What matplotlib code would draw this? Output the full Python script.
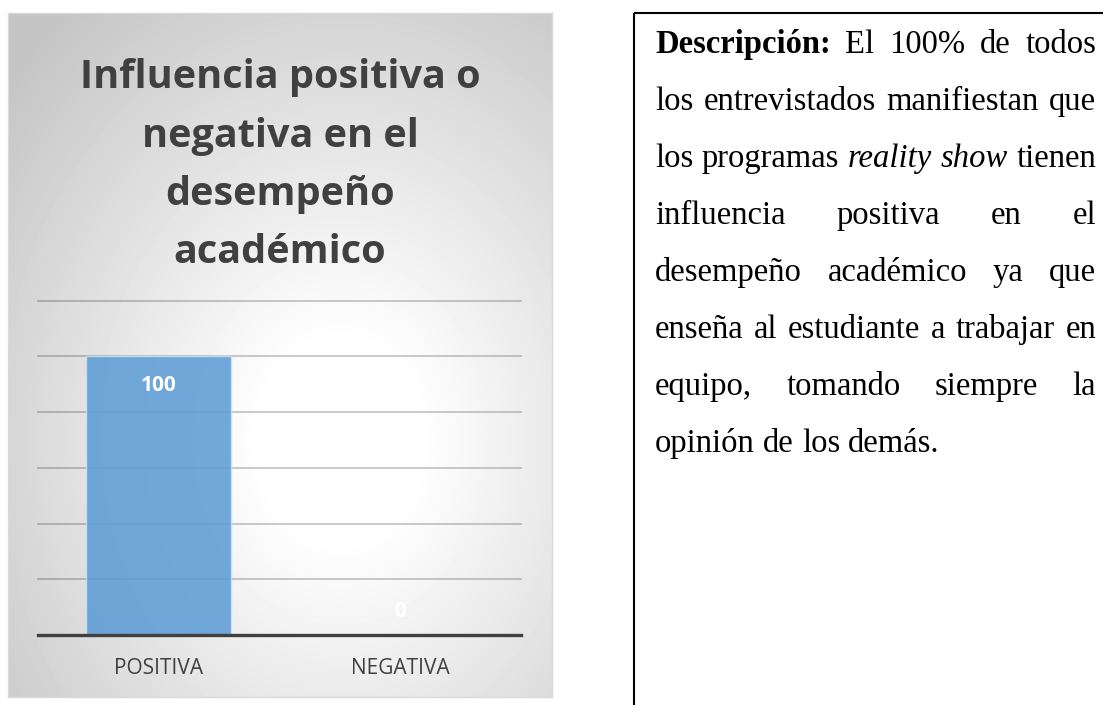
import numpy as np
import matplotlib
matplotlib.use("Agg")
import matplotlib.pyplot as plt
from matplotlib.patches import Rectangle

# chart data
categories = ["POSITIVA", "NEGATIVA"]
values = [100, 0]
title_lines = ["Influencia positiva o", "negativa en el", "desempeño", "académico"]

# description text, one entry per printed line: (word, style)
desc_lines = [
    [("Descripción:", "bold"), ("El", ""), ("100%", ""), ("de", ""), ("todos", "")],
    [("los", ""), ("entrevistados", ""), ("manifiestan", ""), ("que", "")],
    [("los", ""), ("programas", ""), ("reality", "italic"), ("show", "italic"), ("tienen", "")],
    [("influencia", ""), ("positiva", ""), ("en", ""), ("el", "")],
    [("desempeño", ""), ("académico", ""), ("ya", ""), ("que", "")],
    [("enseña", ""), ("al", ""), ("estudiante", ""), ("a", ""), ("trabajar", ""), ("en", "")],
    [("equipo,", ""), ("tomando", ""), ("siempre", ""), ("la", "")],
    [("opinión", ""), ("de", ""), ("los", ""), ("demás.", "")],
]

W, H = 1103, 705
fig = plt.figure(figsize=(W / 100, H / 100), dpi=100)
fig.patch.set_facecolor("white")

# ---- chart panel with radial gradient background
px0, py0, pw, ph = 8, 13, 544, 684
bg = fig.add_axes([px0 / W, 1 - (py0 + ph) / H, pw / W, ph / H])
yy, xx = np.mgrid[0:ph, 0:pw]
cx, cy = 340 - px0, 440 - py0
d = np.sqrt((xx - cx) ** 2 + ((yy - cy) * 0.8) ** 2)
grad = 1 - 0.23 * np.clip((d - 80) / 360, 0, 1)
bg.imshow(grad, cmap="gray", vmin=0, vmax=1, aspect="auto", interpolation="bilinear")
bg.set_xticks([])
bg.set_yticks([])
for s in bg.spines.values():
    s.set_color("#d9d9d9")
    s.set_linewidth(1)

# ---- bar plot area
top_px, axis_px = 300.5, 635
ax = fig.add_axes([38 / W, 1 - axis_px / H, 483 / W, (axis_px - top_px) / H])
ax.patch.set_alpha(0)
ax.set_xlim(-0.5, len(categories) - 0.5)
ax.set_ylim(0, 120)
for v in range(20, 121, 20):
    ax.axhline(v, color="black", alpha=0.22, lw=1.3, zorder=0, clip_on=False)

ax.bar(range(len(categories)), values, width=0.6, color="#5b9bd5", alpha=0.86,
       edgecolor="#cfe2f5", linewidth=1.0, zorder=2)
ax.axhline(0, color="#404040", lw=2.4, zorder=4, clip_on=False)

for i, (cat, val) in enumerate(zip(categories, values)):
    ax.annotate(cat, xy=(i, 0), xytext=(0, -39 * 0.72), textcoords="offset points",
                ha="center", va="baseline", fontsize=15, family="Open Sans",
                color="#404040", annotation_clip=False)
    if val > 0:
        off = -35
    else:
        off = 18
    ax.annotate(str(val), xy=(i, val), xytext=(0, off * 0.72), textcoords="offset points",
                ha="center", va="baseline", fontsize=15, family="Open Sans",
                weight="bold", color="white", annotation_clip=False, zorder=5)

ax.set_xticks([])
ax.set_yticks([])
for s in ax.spines.values():
    s.set_visible(False)

# ---- overlay in pixel units for title, description and box
ov = fig.add_axes([0, 0, 1, 1], zorder=10)
ov.set_xlim(0, W)
ov.set_ylim(H, 0)
ov.axis("off")
ov.patch.set_alpha(0)

title_base = [88, 147, 205, 263]
for line, yb in zip(title_lines, title_base):
    ov.text(px0 + pw / 2, yb, line, ha="center", va="baseline", fontsize=28.5,
            family="Open Sans", weight="bold", color="#404040")

# text box (only left and top edges fall inside the image)
ov.add_patch(Rectangle((634, 13), 700, 900, fill=False, edgecolor="black", lw=1.5))

renderer = fig.canvas.get_renderer()
fs = 23.5
left, right = 655, 1096
base0, step = 53, 57
for i, words in enumerate(desc_lines):
    y = base0 + i * step
    objs = []
    for w, style in words:
        t = ov.text(0, y, w, fontsize=fs, family="Liberation Serif",
                    weight="bold" if style == "bold" else "normal",
                    style="italic" if style == "italic" else "normal",
                    va="baseline", ha="left", color="black")
        objs.append(t)
    widths = [t.get_window_extent(renderer).width for t in objs]
    if i == len(desc_lines) - 1:
        gap = 0.25 * fs * 100 / 72
    else:
        gap = (right - left - sum(widths)) / (len(objs) - 1)
    x = left
    for t, w in zip(objs, widths):
        t.set_x(x)
        x += w + gap

fig.savefig("out.png", dpi=100)
